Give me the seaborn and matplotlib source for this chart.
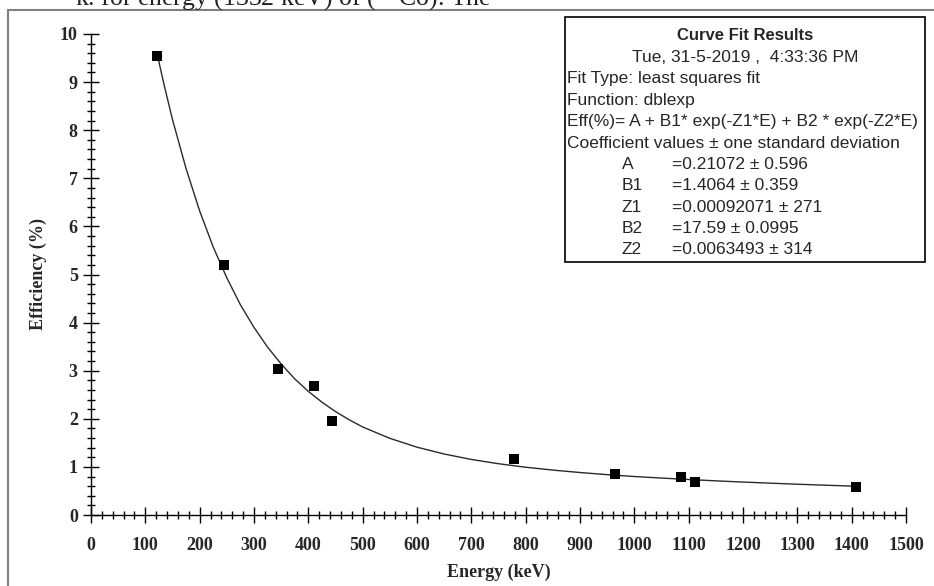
import matplotlib
matplotlib.use('Agg')
import matplotlib.pyplot as plt
from matplotlib.patches import Rectangle
from matplotlib.ticker import MultipleLocator
import seaborn as sns
import pandas as pd

# measured points (keV, efficiency %)
energy = [121.8, 244.7, 344.3, 411.1, 444.0, 778.9, 964.1, 1085.8, 1112.1, 1408.0]
efficiency = [9.55, 5.20, 3.04, 2.69, 1.95, 1.16, 0.85, 0.78, 0.68, 0.58]

# fit curve
fit_energy = [122, 135, 150, 175, 200, 225, 250, 275, 300, 325, 350, 375, 400, 425, 450, 475,
              500, 550, 600, 650, 700, 750, 800, 850, 900, 950, 1000, 1050, 1100, 1150,
              1200, 1250, 1300, 1350, 1408]
fit_eff = [9.57, 8.92, 8.22, 7.20, 6.32, 5.57, 4.93, 4.37, 3.90, 3.49, 3.14, 2.83, 2.57, 2.346,
           2.15, 1.981, 1.83, 1.594, 1.41, 1.268, 1.155, 1.066, 0.993, 0.934, 0.883, 0.839,
           0.80, 0.768, 0.738, 0.710, 0.685, 0.662, 0.64, 0.62, 0.598]

box_title = 'Curve Fit Results'
box_date = 'Tue, 31-5-2019 ,  4:33:36 PM'
box_lines = ['Fit Type: least squares fit',
             'Function: dblexp',
             'Eff(%)= A + B1* exp(-Z1*E) + B2 * exp(-Z2*E)',
             'Coefficient values \u00b1 one standard deviation']
coef_names = ['A', 'B1', 'Z1', 'B2', 'Z2']
coef_vals = ['=0.21072 \u00b1 0.596', '=1.4064 \u00b1 0.359', '=0.00092071 \u00b1 271',
             '=17.59 \u00b1 0.0995', '=0.0063493 \u00b1 314']

pts = pd.DataFrame({'E': energy, 'eff': efficiency})
fit = pd.DataFrame({'E': fit_energy, 'eff': fit_eff})

sns.set_style('ticks')
plt.rcParams['font.family'] = ['Liberation Serif', 'DejaVu Serif']

W, H = 934, 586
fig = plt.figure(figsize=(W / 100, H / 100), dpi=100)
ax = fig.add_axes([91 / W, (H - 515) / H, (906 - 91) / W, (515 - 34) / H])

sns.lineplot(data=fit, x='E', y='eff', ax=ax, color='#2a2a2a', linewidth=1.0)
sns.scatterplot(data=pts, x='E', y='eff', ax=ax, marker='s', s=62, color='black',
                edgecolor='black', linewidth=0, zorder=5)

ax.set_xlim(0, 1500)
ax.set_ylim(0, 10)
ax.xaxis.set_major_locator(MultipleLocator(100))
ax.xaxis.set_minor_locator(MultipleLocator(20))
ax.yaxis.set_major_locator(MultipleLocator(1))
ax.yaxis.set_minor_locator(MultipleLocator(0.2))
ax.tick_params(which='major', direction='inout', length=11, width=1, color='black',
               labelsize=13)
ax.tick_params(which='minor', direction='inout', length=6, width=1, color='black')
ax.tick_params(axis='x', which='major', pad=10)
ax.tick_params(axis='y', which='major', pad=4)
for lab in ax.get_xticklabels() + ax.get_yticklabels():
    lab.set_fontweight('bold')
sns.despine(ax=ax)
for s in ['left', 'bottom']:
    ax.spines[s].set_linewidth(1)
    ax.spines[s].set_color('black')
ax.set_xlabel('Energy (keV)', fontsize=13, fontweight='bold', labelpad=7)
ax.set_ylabel('Efficiency (%)', fontsize=13, fontweight='bold', labelpad=9)

# outer frame of the screenshot
fig.patches.append(Rectangle((8 / W, -0.2), 1.2, (H - 10) / H + 0.2, transform=fig.transFigure,
                             fill=False, edgecolor='#7f7f7f', linewidth=1.5))
# clipped sentence above the chart (cut off in the source screenshot too)
fig.text(75 / W, (H - 6) / H, 'k. for energy (1332 keV) of ($^{60}$Co). The',
         fontsize=18.5, va='baseline', ha='left', color='#222222')

# results box
bx0, by0, bx1, by1 = 565, 17, 925, 262
fig.patches.append(Rectangle((bx0 / W, (H - by1) / H), (bx1 - bx0) / W, (by1 - by0) / H,
                             transform=fig.transFigure, fill=False, edgecolor='black',
                             linewidth=1.2, zorder=10))
sans = ['Liberation Sans', 'DejaVu Sans']
fs = 12.5
step = 21.4
cx = (bx0 + bx1) / 2
fig.text(cx / W, (H - 36) / H, box_title, family=sans, fontsize=12, fontweight='bold',
         ha='center', va='center')
fig.text(cx / W, (H - 36 - step) / H, box_date, family=sans, fontsize=fs,
         ha='center', va='center')
y = 36 + 2 * step
for line in box_lines:
    fig.text(567 / W, (H - y) / H, line, family=sans, fontsize=fs, ha='left', va='center')
    y += step
for name, val in zip(coef_names, coef_vals):
    fig.text(622 / W, (H - y) / H, name, family=sans, fontsize=fs, ha='left', va='center')
    fig.text(672 / W, (H - y) / H, val, family=sans, fontsize=fs, ha='left', va='center')
    y += step

fig.savefig('out.png', dpi=100)
